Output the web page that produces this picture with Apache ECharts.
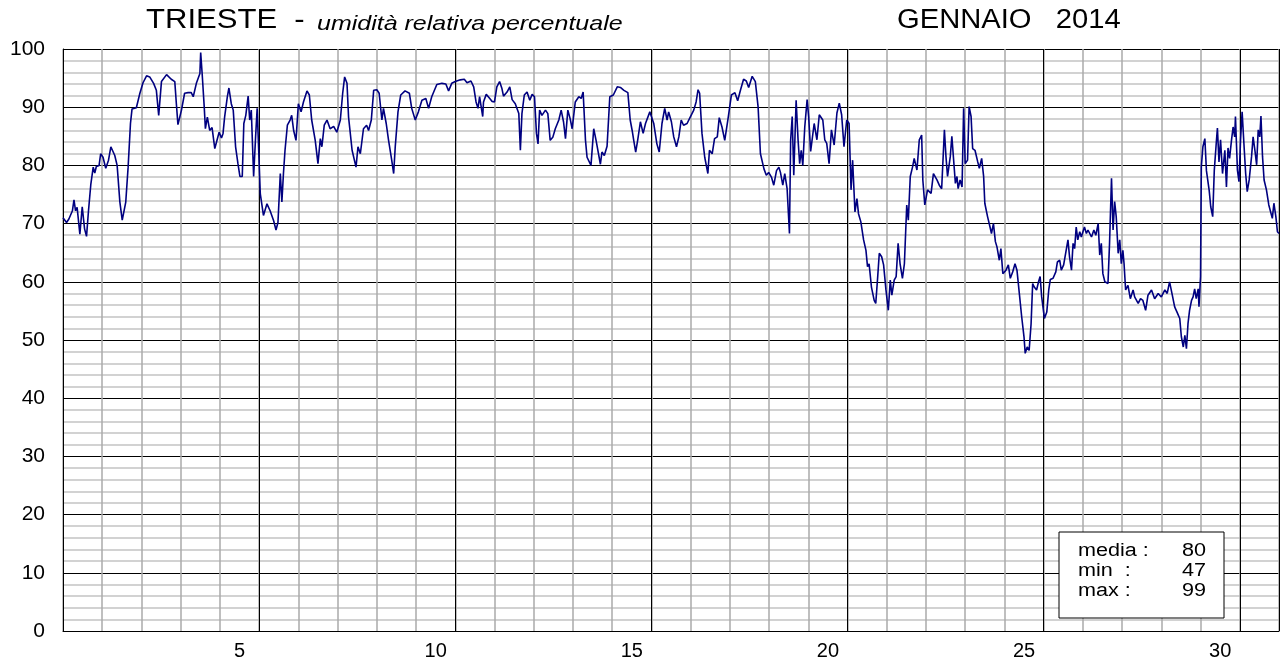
<!DOCTYPE html>
<html>
<head>
<meta charset="utf-8">
<script src="https://cdn.jsdelivr.net/npm/echarts@6/dist/echarts.min.js"></script>
<style>
  html, body { margin: 0; padding: 0; background: #fff; }
  #chart { width: 1288px; height: 661px; }
</style>
</head>
<body>
<div id="chart"></div>
<script>
// giorni del mese (frazione di giorno) e umidita relativa %
const days = [
  0, 0.09, 0.15, 0.24, 0.28, 0.32, 0.36, 0.43, 0.49, 0.55, 0.6, 0.65, 0.71, 0.77, 0.81, 0.85, 0.92, 0.96,
  1.02, 1.09, 1.16, 1.22, 1.32, 1.38, 1.45, 1.51, 1.55, 1.6, 1.66, 1.72, 1.76, 1.87, 1.96,
  2.04, 2.13, 2.21, 2.31, 2.38, 2.44, 2.51, 2.64, 2.76, 2.85, 2.89, 2.93,
  3.02, 3.1, 3.19, 3.27, 3.32, 3.4, 3.49, 3.51, 3.55, 3.6, 3.63, 3.68, 3.74, 3.8, 3.87, 3.91, 3.98,
  4.04, 4.08, 4.12, 4.19, 4.23, 4.29, 4.34, 4.4, 4.46, 4.51, 4.57, 4.61, 4.66, 4.72, 4.76, 4.8, 4.86, 4.91, 4.95, 4.99,
  5.03, 5.11, 5.2, 5.28, 5.37, 5.43, 5.48, 5.54, 5.58, 5.62, 5.66, 5.72, 5.79, 5.83, 5.88, 5.94,
  6.0, 6.07, 6.13, 6.22, 6.28, 6.34, 6.43, 6.5, 6.56, 6.6, 6.66, 6.73, 6.81, 6.9, 6.98,
  7.07, 7.13, 7.18, 7.24, 7.28, 7.37, 7.47, 7.52, 7.58, 7.66, 7.74, 7.79, 7.86, 7.92,
  8.0, 8.06, 8.13, 8.17, 8.24, 8.3, 8.38, 8.43, 8.47, 8.54, 8.61, 8.72, 8.83, 8.89, 8.98,
  9.06, 9.15, 9.25, 9.32, 9.4, 9.53, 9.66, 9.76, 9.83, 9.91,
  10.0, 10.13, 10.23, 10.3, 10.4, 10.47, 10.53, 10.58, 10.62, 10.7, 10.72, 10.79, 10.88, 10.94,
  11.0, 11.06, 11.13, 11.19, 11.23, 11.32, 11.39, 11.45, 11.53, 11.62, 11.66, 11.7, 11.76, 11.83, 11.9, 11.96,
  12.02, 12.07, 12.11, 12.15, 12.21, 12.3, 12.36, 12.42, 12.49, 12.55, 12.64, 12.7, 12.76, 12.81, 12.87, 12.93, 12.98,
  13.06, 13.15, 13.21, 13.26, 13.32, 13.36, 13.4, 13.46, 13.53, 13.59, 13.64, 13.7, 13.74, 13.8, 13.87, 13.94,
  14.03, 14.13, 14.21, 14.3, 14.4, 14.46, 14.51, 14.55, 14.6, 14.65, 14.72, 14.79, 14.85, 14.96,
  15.06, 15.14, 15.2, 15.27, 15.34, 15.4, 15.44, 15.51, 15.57, 15.64, 15.7, 15.76, 15.82, 15.91, 15.99,
  16.08, 16.14, 16.19, 16.23, 16.29, 16.36, 16.44, 16.48, 16.55, 16.61, 16.68, 16.73, 16.8, 16.87, 16.96,
  17.04, 17.13, 17.2, 17.27, 17.35, 17.42, 17.48, 17.57, 17.65, 17.72, 17.78, 17.87, 17.93, 17.99,
  18.06, 18.12, 18.19, 18.25, 18.29, 18.35, 18.4, 18.46, 18.52, 18.55, 18.59, 18.63, 18.69, 18.74, 18.78, 18.82, 18.86, 18.91, 18.97,
  19.01, 19.06, 19.15, 19.22, 19.28, 19.37, 19.42, 19.47, 19.53, 19.59, 19.66, 19.73, 19.79, 19.85, 19.91, 19.98,
  20.04, 20.09, 20.13, 20.19, 20.24, 20.28, 20.34, 20.41, 20.47, 20.51, 20.55, 20.61, 20.68, 20.72, 20.77, 20.81, 20.87, 20.92, 20.98,
  21.04, 21.09, 21.13, 21.19, 21.24, 21.29, 21.34, 21.4, 21.45, 21.51, 21.55, 21.6, 21.66, 21.7, 21.77, 21.83, 21.89, 21.92, 21.97,
  22.04, 22.13, 22.19, 22.28, 22.34, 22.4, 22.47, 22.51, 22.55, 22.62, 22.66, 22.71, 22.75, 22.79, 22.82, 22.87, 22.92, 22.96,
  23.0, 23.06, 23.1, 23.15, 23.19, 23.25, 23.32, 23.36, 23.42, 23.47, 23.5, 23.57, 23.63, 23.67, 23.72, 23.77, 23.81, 23.87, 23.91, 23.96,
  24.04, 24.1, 24.15, 24.21, 24.27, 24.32, 24.38, 24.44, 24.5, 24.53, 24.58, 24.63, 24.68, 24.72, 24.76, 24.82, 24.87, 24.91, 24.95,
  25.02, 25.08, 25.13, 25.17, 25.24, 25.31, 25.35, 25.41, 25.45, 25.51, 25.56, 25.62, 25.66, 25.71, 25.75, 25.79, 25.83, 25.87, 25.92, 25.96,
  26.04, 26.09, 26.13, 26.22, 26.28, 26.33, 26.39, 26.43, 26.47, 26.51, 26.56, 26.64, 26.68, 26.73, 26.77, 26.81, 26.85, 26.9, 26.94, 26.98,
  27.02, 27.05, 27.09, 27.15, 27.21, 27.28, 27.32, 27.41, 27.47, 27.53, 27.6, 27.66, 27.75, 27.83, 27.92,
  28.0, 28.09, 28.15, 28.21, 28.28, 28.34, 28.4, 28.47, 28.51, 28.56, 28.6, 28.64, 28.68, 28.72, 28.77, 28.81, 28.85, 28.89, 28.94, 28.96,
  29.0, 29.02, 29.06, 29.11, 29.15, 29.22, 29.26, 29.31, 29.35, 29.4, 29.43, 29.47, 29.51, 29.56, 29.62, 29.66, 29.7, 29.74, 29.79, 29.83, 29.87, 29.89, 29.94, 29.98,
  30.02, 30.06, 30.1, 30.15, 30.19, 30.24, 30.3, 30.34, 30.38, 30.43, 30.47, 30.51, 30.54, 30.58, 30.62, 30.68, 30.74, 30.79, 30.83, 30.87, 30.92, 30.96, 31.0
]
const humidity = [
  71, 70.2, 70.8, 72.2, 74.1, 72.2, 72.8, 68.2, 72.9, 69.1, 67.8, 72.2, 76.8, 79.7, 78.7, 79.8, 80, 82,
  81.4, 79.5, 80.9, 83.2, 81.7, 80, 73.7, 70.6, 70.5, 73.7, 79.7, 87.2, 89.7, 89.9, 92.4,
  94.2, 95.4, 95.2, 94.1, 92.9, 88.6, 94.4, 95.6, 94.8, 94.4, 90.6, 87,
  89.5, 92.4, 92.5, 92.5, 91.8, 94.1, 95.8, 99.4, 95.5, 90.1, 86.3, 88.3, 86, 86.5, 82.9, 82.9, 85.7,
  84.7, 85.5, 88.3, 91.8, 93.3, 90.6, 89.5, 83.2, 80.3, 78.1, 78.1, 87.2, 88.6, 91.9, 87.8, 89.5, 78.1, 84.9, 89.8, 90.1,
  75.1, 71.4, 73.4, 72.2, 70.5, 68.9, 70.2, 78.6, 73.7, 78.6, 82.6, 86.9, 87.8, 88.6, 86, 84.3,
  90.6, 89.2, 90.9, 92.8, 92.1, 87.8, 84.3, 80.3, 84.6, 83.2, 86.9, 87.8, 86.3, 86.7, 85.7,
  87.8, 92.4, 95.2, 94.1, 88.3, 82.6, 79.7, 83.2, 82, 86.3, 86.9, 86, 87.8, 92.9,
  93, 92.4, 87.8, 89.8, 87.2, 84.3, 80.9, 78.6, 83.2, 89.2, 92.1, 92.8, 92.4, 89.8, 87.8,
  89.2, 91.2, 91.5, 89.8, 91.8, 93.9, 94.1, 94, 92.8, 94.1,
  94.4, 94.7, 94.8, 94.2, 94.5, 93.5, 90.9, 89.8, 91.8, 88.4, 90.9, 92.2, 91.5, 91,
  90.9, 93.5, 94.4, 93.2, 91.9, 92.6, 93.5, 91.3, 90.6, 88.9, 82.6, 88.9, 92.1, 92.6, 91.2, 92.2,
  91.8, 85.5, 83.7, 89.5, 88.6, 89.5, 88.9, 84.3, 84.9, 86.3, 87.8, 89.5, 87.5, 84.6, 89.5, 88, 86.3,
  90.9, 91.8, 91.5, 92.6, 84.3, 81.4, 81.7, 80, 86.3, 84.3, 84.6, 80.2, 82.3, 81.7, 83.3, 91.8,
  92.1, 93.5, 93.4, 92.9, 92.5, 87.8, 86, 84.3, 82.3, 84.3, 87.5, 85.5, 87.2, 89.2,
  87.2, 83.7, 82.3, 87.2, 89.8, 87.8, 89.2, 87.5, 84.9, 83.2, 84.9, 87.8, 86.9, 87.2, 88.3,
  89.5, 90.9, 93, 92.4, 85.5, 81.4, 78.6, 82.6, 82, 84.6, 84.9, 88.2, 86.6, 84.3, 88.3,
  92.1, 92.5, 91.1, 92.9, 94.8, 94.5, 93.4, 95.3, 94.4, 90.1, 82, 79.4, 78.3, 78.8,
  78, 76.6, 79.1, 79.7, 78.8, 76.6, 78.6, 76, 68.3, 84.3, 88.4, 78.3, 91.2, 84.3, 80.3, 82.6, 80, 86.6, 91.3,
  88.3, 82.4, 87.2, 84.4, 88.7, 87.8, 84.4, 83.8, 80.3, 86.1, 83.5, 89, 90.7, 88.7, 83.2, 87.8,
  87.2, 75.8, 80.9, 72, 74.3, 71.7, 70.3, 67.2, 65.4, 62.6, 63.1, 59.1, 56.8, 56.3, 60.9, 64.9, 64.3, 62.9, 58.6,
  55.1, 60.3, 57.7, 60.3, 60.9, 66.6, 63.1, 60.6, 63.1, 73.2, 70.6, 78.1, 79.8, 81.2, 79.2, 84.4, 85.2, 77.5, 73.2,
  75.8, 75.2, 78.6, 77.5, 76.6, 76, 86.1, 81.5, 78.1, 81.5, 85, 84.9, 76.9, 78.1, 76, 77.5, 76.3, 89.8,
  80.3, 80.9, 90.1, 88.4, 82.9, 82.6, 80.6, 79.5, 81.2, 78.1, 73.5, 71.2, 69.5, 68.3, 70, 66.9, 66, 63.7, 65.7, 61.4,
  62, 62.9, 60.6, 61.7, 63.1, 62, 58, 54, 50.5, 47.7, 48.8, 48.2, 52.8, 59.7, 59.1, 58.6, 60, 60.9, 57.4,
  53.7, 54.8, 58.6, 60.4, 60.6, 61.7, 63.4, 63.7, 62, 62.9, 63.1, 67.2, 64.3, 62, 66.6, 65.7, 69.4, 67.2, 68.6, 67.7,
  69.4, 68.3, 68.9, 67.7, 68.9, 68, 70, 64.6, 66.6, 61.4, 60, 59.7, 66.6, 77.8, 68.9, 73.8, 71.2, 64.9, 67.2, 63.1,
  65.4, 63.1, 58.6, 59.4, 57.1, 58.6, 57.4, 56.3, 57.1, 56.8, 55.1, 57.7, 58.6, 57.1, 58,
  57.4, 58.6, 58, 60, 57.7, 55.7, 54.8, 53.7, 50.6, 48.8, 50.8, 48.5, 52.8, 55.1, 56.8, 57.4, 58.8, 57.1, 58.8, 55.7,
  60.9, 79.8, 83.2, 84.6, 79.1, 75.7, 72.9, 71.2, 79.1, 83.8, 86.4, 80.6, 84.4, 78.6, 82.6, 76.3, 83, 81.2, 84.4, 86.6, 84.9, 88.4, 79.2, 77.2,
  84.4, 89.2, 84.4, 78.6, 75.5, 77.5, 81.5, 84.9, 82.9, 80.1, 86.1, 84.9, 88.5, 81.5, 77.5, 75.8, 73.2, 73.5, 70.9, 73.5, 71.2, 68.6, 68.3
]
const dayLabels = []
for (let d = 1; d <= 31; d++) dayLabels.push(String(d))
const statLabels = ['media :', 'min  :', 'max :']
const statValues = [80, 47, 99]

const chart = echarts.init(document.getElementById('chart'))
const font = 'Liberation Sans, Arial, sans-serif'

const statTexts = []
statLabels.forEach((label, i) => {
  statTexts.push({ type: 'text', z: 21, x: 19, y: 19 + i * 20, scaleX: 1.2,
    style: { text: label, font: '18px ' + font, fill: '#000', verticalAlign: 'middle' } })
  statTexts.push({ type: 'text', z: 21, x: 147, y: 19 + i * 20, scaleX: 1.2,
    style: { text: String(statValues[i]), font: '18px ' + font, fill: '#000', align: 'right', verticalAlign: 'middle' } })
})

chart.setOption({
  animation: false,
  backgroundColor: '#fff',
  grid: { left: 63, right: 9, top: 49, bottom: 30, containLabel: false },
  xAxis: [{
    type: 'value',
    min: 0,
    max: 31,
    interval: 5,
    z: 3,
    axisLine: { show: true, lineStyle: { color: '#000', width: 1 } },
    axisTick: { show: false },
    axisLabel: { show: false },
    splitLine: { show: true, lineStyle: { color: '#000', width: 1 } }
  }, {
    type: 'category',
    data: dayLabels,
    boundaryGap: true,
    position: 'bottom',
    z: 1,
    axisLine: { show: false },
    axisTick: { show: false },
    axisLabel: {
      interval: 0,
      margin: 10,
      fontFamily: font,
      fontSize: 20,
      color: '#000',
      formatter: (v) => (Number(v) % 5 === 0 ? v : '')
    },
    splitLine: { show: true, interval: 0, lineStyle: { color: '#aaaaaa', width: 1.5 } }
  }],
  yAxis: {
    type: 'value',
    min: 0,
    max: 100,
    interval: 10,
    axisLine: { show: true, lineStyle: { color: '#000' } },
    axisTick: { show: false },
    axisLabel: { margin: 18, fontFamily: font, fontSize: 21, color: '#000' },
    splitLine: { show: true, lineStyle: { color: '#000', width: 1 } },
    minorTick: { show: false, splitNumber: 5 },
    minorSplitLine: { show: true, lineStyle: { color: '#c4c4c4', width: 1.5 } }
  },
  series: [{
    type: 'line',
    xAxisIndex: 0,
    data: days.map((d, i) => [d, humidity[i]]),
    showSymbol: false,
    z: 5,
    lineStyle: { color: '#000080', width: 1.6 }
  }],
  graphic: [
    { type: 'text', x: 146, y: 21, scaleX: 1.15,
      style: { text: 'TRIESTE  -', font: '27px ' + font, fill: '#000', verticalAlign: 'middle' } },
    { type: 'text', x: 317, y: 24, scaleX: 1.19,
      style: { text: 'umidità relativa percentuale', font: 'italic 21px ' + font, fill: '#000', verticalAlign: 'middle' } },
    { type: 'text', x: 897, y: 21, scaleX: 1.08,
      style: { text: 'GENNAIO   2014', font: '27px ' + font, fill: '#000', verticalAlign: 'middle' } },
    {
      type: 'group',
      x: 1059,
      y: 532,
      children: [
        { type: 'rect', z: 20, shape: { x: 0, y: 0, width: 165, height: 86 }, style: { fill: '#fff', stroke: '#000', lineWidth: 1 } }
      ].concat(statTexts)
    }
  ]
})
</script>
</body>
</html>
